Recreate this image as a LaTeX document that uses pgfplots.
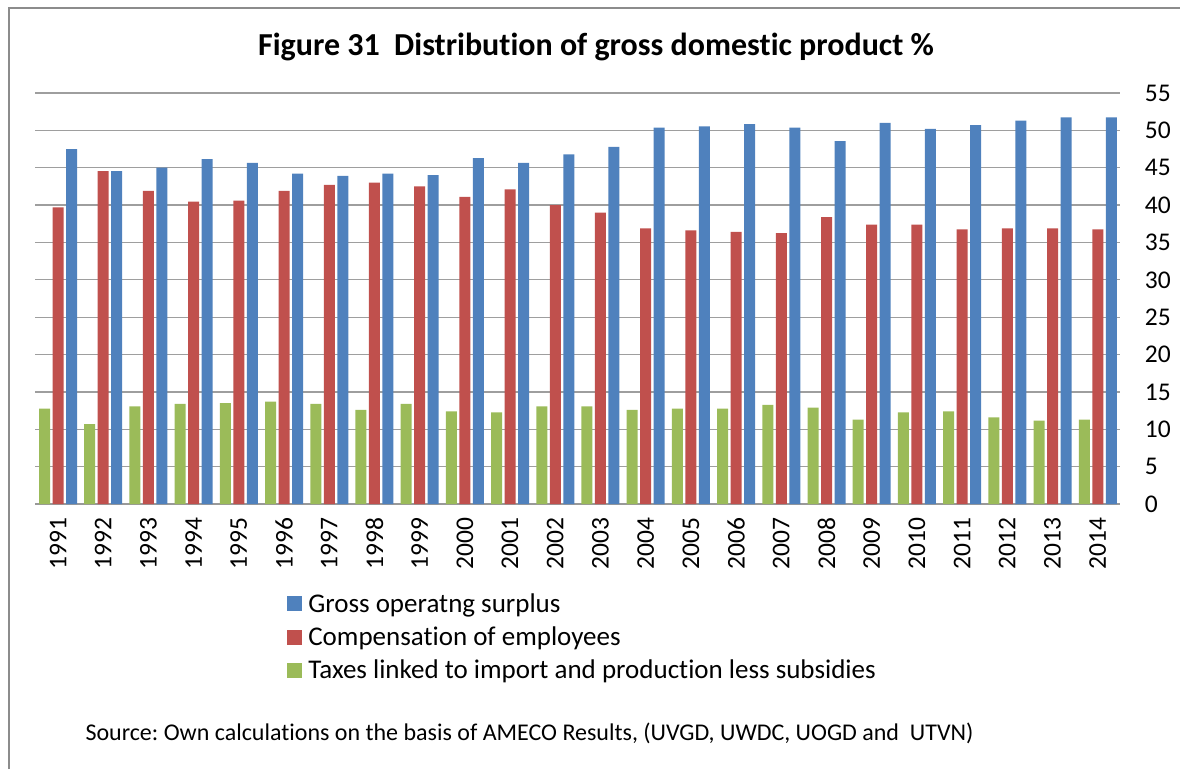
\documentclass[border=0pt]{standalone}
\usepackage{pgfplots}
\usepackage{pgfplotstable}
\pgfplotsset{compat=1.18}
\usepackage{fontspec}
\setmainfont{Carlito}[Ligatures={NoCommon}]
\frenchspacing
\definecolor{gblue}{HTML}{4F81BD}
\definecolor{gred}{HTML}{C0504D}
\definecolor{ggreen}{HTML}{9BBB59}
\pgfplotstableread{
year taxes comp gos
1991 12.75 39.7 47.5
1992 10.7 44.55 44.55
1993 13.05 41.9 45.0
1994 13.4 40.45 46.15
1995 13.5 40.6 45.65
1996 13.7 41.9 44.2
1997 13.4 42.7 43.9
1998 12.6 43.0 44.2
1999 13.4 42.5 44.0
2000 12.4 41.1 46.3
2001 12.25 42.1 45.65
2002 13.05 40.0 46.8
2003 13.05 39.0 47.8
2004 12.6 36.9 50.35
2005 12.75 36.6 50.55
2006 12.75 36.4 50.85
2007 13.25 36.25 50.35
2008 12.9 38.4 48.55
2009 11.3 37.4 51.0
2010 12.25 37.4 50.2
2011 12.4 36.75 50.7
2012 11.6 36.9 51.3
2013 11.15 36.9 51.75
2014 11.3 36.75 51.75
}\datatable
\begin{document}
\begin{tikzpicture}[x=1pt,y=1pt]
\path[use as bounding box] (0,0) rectangle (1180,769);
\draw[black!45, line width=1.5pt] (9,0) -- (9,761) -- (1180,761);
\node[font=\bfseries\fontsize{32}{38}\selectfont] at (596,722) {Figure 31\ \ Distribution of gross domestic product \%};
\begin{axis}[
  at={(35.4pt,265pt)}, anchor=south west,
  scale only axis, width=1085pt, height=411pt,
  ymin=0, ymax=55, ytick={0,5,...,55},
  xmin=1990.5, xmax=2014.5, xtick={1991,...,2014},
  axis x line*=bottom, axis y line*=right,
  x axis line style={black!40, line width=1.3pt},
  y axis line style={draw=none},
  major tick length=0pt,
  ymajorgrids, grid style={black!38, line width=1.3pt},
  ybar=2.5pt, bar width=11pt,
  /pgf/number format/assume math mode=true,
  /pgf/number format/1000 sep={},
  ticklabel style={font=\fontsize{25.5}{30}\selectfont},
  xticklabel style={rotate=90, anchor=east, xshift=-10pt},
  yticklabel style={anchor=west, xshift=21pt},
  reverse legend,
  legend style={at={(0.232,-0.213)}, anchor=north west, draw=none, fill=none,
    font=\fontsize{27}{32}\selectfont, row sep=9pt, inner sep=0pt},
  legend cell align=left,
  legend image code/.code={\fill[#1] (0pt,-7.5pt) rectangle (15pt,7.5pt); \path (19pt,0pt);},
]
\addplot[fill=ggreen, draw=none] table[x=year, y=taxes] {\datatable};
\addplot[fill=gred, draw=none] table[x=year, y=comp] {\datatable};
\addplot[fill=gblue, draw=none] table[x=year, y=gos] {\datatable};
\legend{Taxes linked to import and production less subsidies, Compensation of employees, Gross operatng surplus}
\end{axis}
\node[anchor=west, font=\fontsize{24}{28}\selectfont] at (82,36) {Source: Own calculations on the basis of AMECO Results, (UVGD, UWDC, UOGD and\ \ UTVN)};
\end{tikzpicture}
\end{document}
